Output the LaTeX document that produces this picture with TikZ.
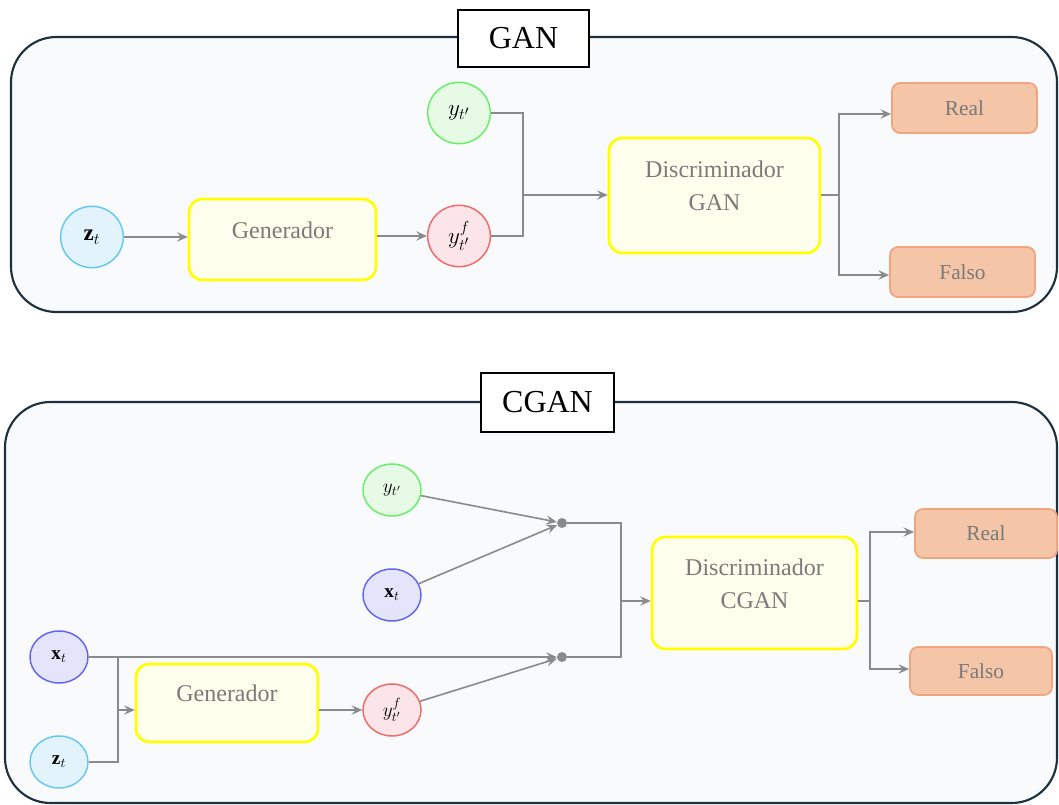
\documentclass[tikz,border=0pt]{standalone}
\usepackage{fontspec}
\setmainfont{Liberation Serif}
\usetikzlibrary{arrows.meta,shapes.geometric,fit}
\definecolor{framec}{HTML}{1C3140}
\definecolor{framebg}{HTML}{F8FAFC}
\definecolor{yellowc}{HTML}{FFFF00}
\definecolor{yellowbg}{HTML}{FEFEEC}
\definecolor{orangec}{HTML}{F0A57E}
\definecolor{orangebg}{HTML}{F5C5A8}
\definecolor{greenc}{HTML}{66F066}
\definecolor{greenbg}{HTML}{E6FAE6}
\definecolor{redc}{HTML}{F06A6A}
\definecolor{redbg}{HTML}{FBE5E8}
\definecolor{purplec}{HTML}{6464F0}
\definecolor{purplebg}{HTML}{E4E4FA}
\definecolor{bluec}{HTML}{66C8F0}
\definecolor{bluebg}{HTML}{E2F3FC}
\definecolor{textgray}{HTML}{7A7A7A}
\definecolor{linegray}{HTML}{8A8A8A}
\begin{document}
\begin{tikzpicture}[x=0.75pt,y=-0.75pt,
  frame/.style={draw=framec, line width=1.6pt, fill=framebg, rounded corners=34pt, inner sep=0pt},
  title/.style={draw=black, fill=white, line width=1.1pt, inner sep=0pt, font=\fontsize{24}{28}\selectfont},
  ybox/.style={draw=yellowc, fill=yellowbg, line width=2pt, rounded corners=10pt, inner sep=0pt},
  obox/.style={draw=orangec, fill=orangebg, line width=1.3pt, rounded corners=6pt, inner sep=0pt, text=textgray, font=\fontsize{16}{19}\selectfont},
  lbl/.style={text=textgray, font=\fontsize{18}{24.75}\selectfont, align=center},
  var/.style={ellipse, line width=1.1pt, inner sep=0pt},
  bigvar/.style={var, minimum width=47pt, minimum height=46pt, font=\fontsize{17.28}{20}\selectfont},
  smallvar/.style={var, minimum width=43.5pt, minimum height=39pt, font=\fontsize{14.4}{17}\selectfont},
  gvar/.style={draw=greenc, fill=greenbg},
  rvar/.style={draw=redc, fill=redbg},
  pvar/.style={draw=purplec, fill=purplebg},
  bvar/.style={draw=bluec, fill=bluebg},
  conn/.style={draw=linegray, line width=1.2pt},
  arr/.style={conn, -{Stealth[length=8pt,width=7pt,inset=3pt]}},
  dot/.style={circle, fill=linegray, inner sep=0pt, minimum size=7.5pt}
]
\useasboundingbox (0,0) rectangle (1059,805);

% ---------------- GAN ----------------
\node[frame, fit={(11,37)(1057,312)}] (ganframe) {};
\node[title, minimum width=98.25pt, minimum height=42.75pt] (gantitle) at (523.5,38.5) {GAN};

\node[bigvar, bvar] (z) at (92,237) {$\mathbf{z}_t$};
\node[ybox, fit={(189,199)(376,280)}] (gen) {};
\node[lbl] (gentext) at (282.5,230) {Generador};
\node[bigvar, gvar] (y) at (459,113) {$y_{t'}$};
\node[bigvar, rvar] (yf) at (459,236) {$y^{f}_{t'}$};
\node[ybox, fit={(609,138)(820,253)}] (disc) {};
\node[lbl] (disctext) at (714.5,185.5) {Discriminador\\GAN};
\node[obox, minimum width=108.75pt, minimum height=37.5pt] (real) at (964.5,108) {Real};
\node[obox, minimum width=108.75pt, minimum height=37.5pt] (falso) at (962.5,272) {Falso};

\coordinate (jm) at (523,195);
\coordinate (sa) at (839,195);
\coordinate (sr) at (839,114);
\coordinate (sf) at (839,275);

\draw[arr] (z) -- (z -| gen.west);
\draw[arr] (gen.east |- yf) -- (yf.west);
\draw[conn] (y.east) -- (y.east -| jm) -- (yf.east -| jm) -- (yf.east);
\draw[arr] (jm) -- (jm -| disc.west);
\draw[conn] (disc.east |- sa) -- (sa);
\draw[arr] (sa) -- (sr) -- (sr -| real.west);
\draw[arr] (sa) -- (sf) -- (sf -| falso.west);

% ---------------- CGAN ----------------
\node[frame, fit={(5,402)(1057,803)}] (cganframe) {};
\node[title, minimum width=99.75pt, minimum height=44.25pt] (cgantitle) at (547.5,402.5) {CGAN};

\node[smallvar, gvar] (y2) at (392,490) {$y_{t'}$};
\node[smallvar, pvar] (xu) at (392,595) {$\mathbf{x}_t$};
\node[smallvar, pvar] (xl) at (59,657) {$\mathbf{x}_t$};
\node[smallvar, bvar] (zl) at (59,762) {$\mathbf{z}_t$};
\node[ybox, fit={(136,664)(318,742)}] (gen2) {};
\node[lbl] (gen2text) at (227,693) {Generador};
\node[smallvar, rvar] (yf2) at (392,710) {$y^{f}_{t'}$};
\node[dot] (d1) at (562,523) {};
\node[dot] (d2) at (562,657) {};
\node[ybox, fit={(652,537)(857,649)}] (disc2) {};
\node[lbl] (disc2text) at (754.5,584) {Discriminador\\CGAN};
\node[obox, minimum width=106.5pt, minimum height=36.75pt] (real2) at (986,533.5) {Real};
\node[obox, minimum width=106.5pt, minimum height=36pt] (falso2) at (981,671) {Falso};

\coordinate (ja2) at (118,657);
\coordinate (jm2) at (118,710);
\coordinate (jc) at (621,601);
\coordinate (sc) at (870,601);
\coordinate (sr2) at (870,532);
\coordinate (sf2) at (870,669);

\draw[arr] (xl) -- (d2);
\draw[conn] (ja2) -- (ja2 |- zl) -- (zl);
\draw[arr] (jm2) -- (jm2 -| gen2.west);
\draw[arr] (gen2.east |- yf2) -- (yf2);
\draw[arr] (y2) -- (d1);
\draw[arr] (xu) -- (d1);
\draw[arr] (yf2) -- (d2);
\draw[conn] (d1) -- (d1 -| jc) -- (d2 -| jc) -- (d2);
\draw[arr] (jc) -- (jc -| disc2.west);
\draw[conn] (disc2.east |- sc) -- (sc);
\draw[arr] (sc) -- (sr2) -- (sr2 -| real2.west);
\draw[arr] (sc) -- (sf2) -- (sf2 -| falso2.west);
\end{tikzpicture}
\end{document}
